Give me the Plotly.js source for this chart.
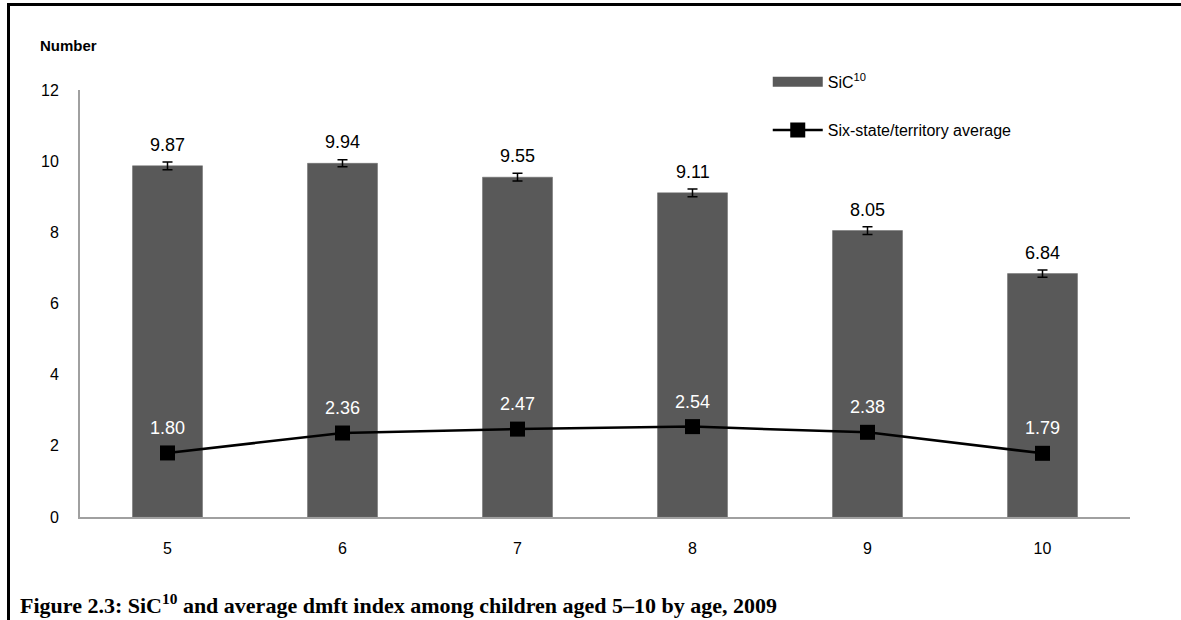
<!DOCTYPE html>
<html>
<head>
<meta charset="utf-8">
<script src="https://cdn.plot.ly/plotly-3.0.1.min.js"></script>
<style>
  html, body { margin: 0; padding: 0; background: #fff; }
  #wrap { position: relative; width: 1181px; height: 620px; overflow: hidden; }
  #chart { position: absolute; left: 0; top: 0; width: 1181px; height: 620px; }
  .bt { position: absolute; left: 7px; top: 3px; width: 1174px; height: 3px; background: #000; }
  .bl { position: absolute; left: 7px; top: 3px; width: 3px; height: 617px; background: #000; }
</style>
</head>
<body>
<div id="wrap">
  <div id="chart"></div>
  <div class="bt"></div>
  <div class="bl"></div>
</div>
<script>
const ages = ['5', '6', '7', '8', '9', '10'];
const sicValues = [9.87, 9.94, 9.55, 9.11, 8.05, 6.84];
const sicErrors = [0.11, 0.10, 0.11, 0.11, 0.11, 0.10];
const avgValues = [1.80, 2.36, 2.47, 2.54, 2.38, 1.79];
const yTicks = [0, 2, 4, 6, 8, 10, 12];

const FONT = 'Liberation Sans, Arial, sans-serif';
const BAR_COLOR = '#595959';

const barTrace = {
  type: 'bar',
  name: 'SiC<sup>10</sup>',
  x: ages,
  y: sicValues,
  marker: { color: BAR_COLOR, line: { color: '#6a6a6a', width: 0.5 } },
  error_y: { type: 'data', array: sicErrors, visible: true, color: '#000', thickness: 1.5, width: 5 },
  showlegend: false
};

// legend entry for the bars, drawn as a wide swatch like the original
const barLegendTrace = {
  type: 'scatter', mode: 'lines',
  name: 'SiC<sup>10</sup>',
  x: [null], y: [null],
  line: { color: BAR_COLOR, width: 11 },
  legend: 'legend', hoverinfo: 'skip'
};

const lineTrace = {
  type: 'scatter',
  mode: 'lines+markers',
  name: 'Six-state/territory average',
  x: ages,
  y: avgValues,
  line: { color: '#000', width: 2.5 },
  marker: { symbol: 'square', size: 15, color: '#000' },
  legend: 'legend2'
};

const annotations = [];
ages.forEach((a, i) => {
  annotations.push({
    x: i, y: sicValues[i], xref: 'x', yref: 'y',
    text: sicValues[i].toFixed(2), showarrow: false,
    yshift: 21, font: { family: FONT, size: 18, color: '#000' }
  });
  annotations.push({
    x: i, y: avgValues[i], xref: 'x', yref: 'y',
    text: avgValues[i].toFixed(2), showarrow: false,
    yshift: 25, font: { family: FONT, size: 18, color: '#ffffff' }
  });
});
annotations.push({
  xref: 'paper', yref: 'paper', x: -0.040, y: 1.105, xanchor: 'left', yanchor: 'middle',
  text: '<b>Number</b>', showarrow: false, font: { family: FONT, size: 15, color: '#000' }
});
annotations.push({
  xref: 'paper', yref: 'paper', x: -0.059, y: -0.204, xanchor: 'left', yanchor: 'middle',
  text: '<b>Figure 2.3: SiC<sup>10</sup> and average dmft index among children aged 5–10 by age, 2009</b>',
  showarrow: false, font: { family: 'Liberation Serif, DejaVu Serif, serif', size: 22, color: '#000' }
});

const layout = {
  width: 1181, height: 620,
  margin: { l: 80, r: 51, t: 90, b: 103 },
  paper_bgcolor: '#fff', plot_bgcolor: '#fff',
  font: { family: FONT, size: 16, color: '#000' },
  bargap: 0.6,
  showlegend: true,
  xaxis: {
    type: 'category', showgrid: false, zeroline: false,
    showline: true, linecolor: '#a0a0a0', linewidth: 2,
    ticks: '', tickfont: { family: FONT, size: 16, color: '#000' },
    ticklabelstandoff: 16, range: [-0.5, 5.5]
  },
  yaxis: {
    range: [0, 12], tickvals: yTicks, ticktext: yTicks.map(String),
    showgrid: false, zeroline: false,
    showline: true, linecolor: '#a0a0a0', linewidth: 2,
    ticks: '', tickfont: { family: FONT, size: 16, color: '#000' },
    ticklabelstandoff: 16
  },
  legend: {
    x: 0.655, y: 1.019, xanchor: 'left', yanchor: 'middle',
    bgcolor: 'rgba(0,0,0,0)', font: { family: FONT, size: 16, color: '#000' },
    itemwidth: 50
  },
  legend2: {
    x: 0.655, y: 0.906, xanchor: 'left', yanchor: 'middle',
    bgcolor: 'rgba(0,0,0,0)', font: { family: FONT, size: 16, color: '#000' },
    itemwidth: 50
  },
  annotations: annotations
};

Plotly.newPlot('chart', [barTrace, lineTrace, barLegendTrace], layout, { displayModeBar: false, staticPlot: true });
</script>
</body>
</html>
